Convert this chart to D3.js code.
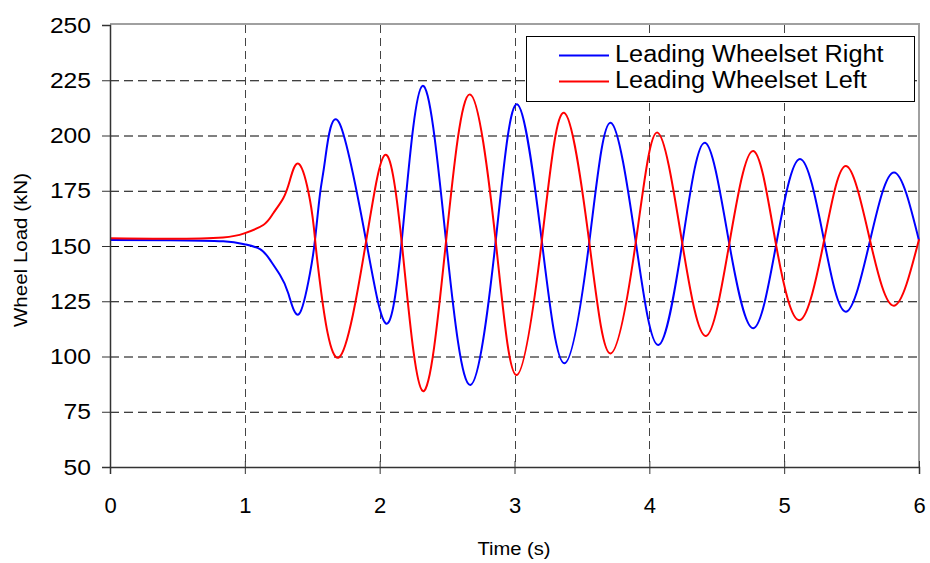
<!DOCTYPE html>
<html>
<head>
<meta charset="utf-8">
<script src="https://cdn.jsdelivr.net/npm/d3@7"></script>
<style>
  html, body { margin: 0; padding: 0; background: #fff; }
  svg { display: block; font-family: Arial, "Liberation Sans", sans-serif; }
</style>
</head>
<body>
<svg id="chart" width="930" height="563"></svg>
<script>
// Wheel load history of the leading wheelset (right and left wheels)
const rightTime = [0, 0.445, 0.84, 0.996, 1.113, 1.187, 1.261, 1.322, 1.402, 1.483, 1.52, 1.558, 1.595, 1.698,
  1.899, 2.045, 2.163, 2.316, 2.492, 2.673, 2.861, 3.019, 3.202, 3.371, 3.555, 3.713, 3.899, 4.067,
  4.245, 4.413, 4.593, 4.771, 4.94, 5.117, 5.296, 5.459, 5.637, 5.815, 6.0];
const rightLoad = [152.7, 152.6, 152.1, 150.8, 148.6, 143.7, 136.9, 128.6, 119.2, 137.6, 152.5, 173.8, 188.9, 206,
  152.5, 115, 152, 222.4, 152.5, 87.1, 152.5, 214.1, 152.5, 96.9, 152, 205.8, 152, 105.2,
  151.5, 196.7, 151, 112.8, 150.5, 189.4, 152.5, 120.3, 152.5, 183.3, 152.5];

const leftTime = [0, 0.445, 0.838, 0.996, 1.137, 1.211, 1.285, 1.335, 1.402, 1.483, 1.52, 1.558, 1.698,
  1.899, 2.04, 2.163, 2.319, 2.492, 2.67, 2.861, 3.016, 3.202, 3.367, 3.555, 3.713, 3.899, 4.06,
  4.245, 4.42, 4.593, 4.771, 4.94, 5.117, 5.296, 5.459, 5.637, 5.815, 6.0];
const leftLoad = [153.5, 153.3, 153.9, 155.7, 159.5, 164.8, 171.6, 179.9, 187.1, 170.8, 153.5, 133.1, 99.6,
  152, 191.2, 152, 84.4, 152, 218.6, 152, 91.6, 152, 210.3, 151.5, 101.4, 151.5, 201.3,
  151, 109.3, 151, 193.0, 150.5, 116.5, 152.5, 186.2, 152.5, 123, 153];

const yTicks = [50, 75, 100, 125, 150, 175, 200, 225, 250];
const xTicks = [0, 1, 2, 3, 4, 5, 6];
const seriesNames = ["Leading Wheelset Right", "Leading Wheelset Left"];
const seriesColors = ["#0000ff", "#ff0000"];

const svg = d3.select("#chart");
const x = d3.scaleLinear().domain([0, 6]).range([110, 919]);
const y = d3.scaleLinear().domain([50, 250]).range([467, 25]);

// stretch a text element horizontally by a factor
function widen(sel, k) {
  sel.each(function () {
    const len = this.getComputedTextLength();
    this.setAttribute("textLength", (len * k).toFixed(1));
    this.setAttribute("lengthAdjust", "spacingAndGlyphs");
  });
}

// plot frame (top and right edges)
svg.append("line").attr("x1", x(0)).attr("x2", x(6)).attr("y1", y(250) - 1).attr("y2", y(250) - 1)
  .attr("stroke", "#a0a0a0").attr("stroke-width", 2);
svg.append("line").attr("x1", x(6)).attr("x2", x(6)).attr("y1", y(250) - 2).attr("y2", y(50))
  .attr("stroke", "#a0a0a0").attr("stroke-width", 2);

// horizontal grid
svg.append("g").selectAll("line").data(yTicks.filter(v => v > 50 && v < 250)).join("line")
  .attr("x1", x(0)).attr("x2", x(6))
  .attr("y1", d => y(d) + 0.5).attr("y2", d => y(d) + 0.5)
  .attr("stroke", "#000").attr("stroke-width", 1).attr("stroke-dasharray", "9,5");

// vertical grid
svg.append("g").selectAll("line").data(xTicks.filter(v => v > 0 && v < 6)).join("line")
  .attr("x1", d => Math.round(x(d)) + 0.5).attr("x2", d => Math.round(x(d)) + 0.5)
  .attr("y1", y(250)).attr("y2", y(50))
  .attr("stroke", "#444").attr("stroke-width", 1).attr("stroke-dasharray", "8,5");

// series
const line = d3.line().x(d => x(d[0])).y(d => y(d[1])).curve(d3.curveNatural);
const series = [
  d3.zip(rightTime, rightLoad),
  d3.zip(leftTime, leftLoad)
];
svg.append("g").selectAll("path").data(series).join("path")
  .attr("d", line)
  .attr("fill", "none")
  .attr("stroke", (d, i) => seriesColors[i])
  .attr("stroke-width", 2)
  .attr("stroke-linejoin", "round");

// y axis
const yAxis = svg.append("g").attr("transform", `translate(${x(0)},0)`)
  .call(d3.axisLeft(y).tickValues(yTicks).tickSize(8).tickPadding(11).tickFormat(d3.format("d")));
yAxis.select(".domain").attr("stroke", "#333").attr("stroke-width", 1.5);
yAxis.selectAll(".tick line").attr("stroke", "#333");
yAxis.selectAll(".tick text").attr("font-size", 22).attr("fill", "#000")
  .attr("font-family", "Arial, 'Liberation Sans', sans-serif").call(widen, 1.12);

// x axis
const xAxis = svg.append("g").attr("transform", `translate(0,${y(50)})`)
  .call(d3.axisBottom(x).tickValues(xTicks).tickSize(7).tickFormat(d3.format("d")));
xAxis.select(".domain").attr("stroke", "#333").attr("stroke-width", 1.5);
xAxis.selectAll(".tick line").attr("stroke", "#333").attr("y1", -6).attr("y2", 7);
xAxis.selectAll(".tick text").attr("font-size", 22).attr("fill", "#000")
  .attr("font-family", "Arial, 'Liberation Sans', sans-serif")
  .attr("y", 46).attr("dy", 0);

// axis titles
svg.append("text").attr("x", 514).attr("y", 555).attr("text-anchor", "middle")
  .attr("font-size", 18).text("Time (s)").call(widen, 1.12);
svg.append("text").attr("transform", "translate(27,250) rotate(-90)").attr("text-anchor", "middle")
  .attr("font-size", 19).text("Wheel Load (kN)").call(widen, 1.08);

// legend
const legend = svg.append("g");
legend.append("rect").attr("x", 526.5).attr("y", 36.5).attr("width", 388).attr("height", 65)
  .attr("fill", "#fff").attr("stroke", "#000").attr("stroke-width", 1);
const rows = legend.selectAll("g.row").data(seriesNames).join("g").attr("class", "row")
  .attr("transform", (d, i) => `translate(0,${i * 26})`);
rows.append("line").attr("x1", 559).attr("x2", 609).attr("y1", 55.5).attr("y2", 55.5)
  .attr("stroke", (d, i) => seriesColors[i]).attr("stroke-width", 2);
rows.append("text").attr("x", 615).attr("y", 62).attr("font-size", 23).attr("fill", "#000")
  .text(d => d).call(widen, 1.1);
</script>
</body>
</html>
